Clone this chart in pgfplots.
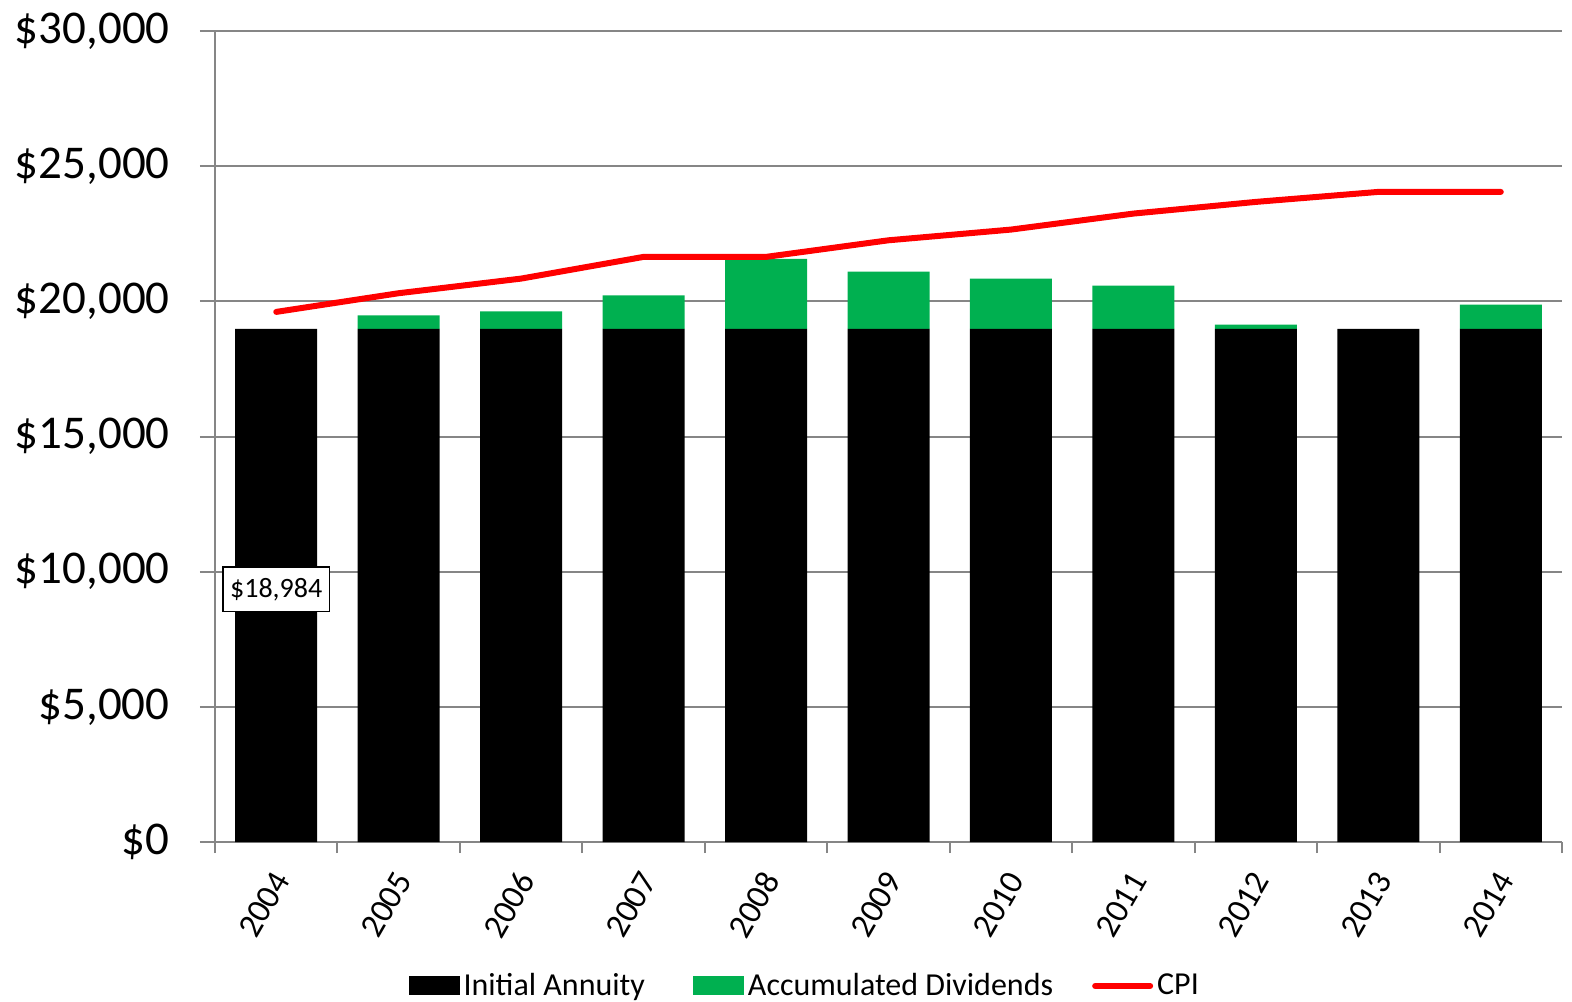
\documentclass[border=0pt]{standalone}
\usepackage{fontspec}
\setmainfont{Carlito}
\usepackage{pgfplots}
\pgfplotsset{compat=1.18}
\definecolor{cgreen}{HTML}{00B050}
\definecolor{cgrid}{HTML}{868686}
\begin{document}
\begin{tikzpicture}
\path[use as bounding box] (-107.5pt,-79.5pt) rectangle (678.5pt,421pt);
\begin{axis}[
  at={(0pt,0pt)}, anchor=south west,
  scale only axis, width=673.5pt, height=405.5pt,
  xmin=-0.5, xmax=10.5, ymin=0, ymax=30000,
  ybar stacked, bar width=41pt,
  axis lines*=left, axis line style={cgrid, line width=1pt},
  ymajorgrids, grid style={cgrid, line width=1pt},
  tick align=outside,
  major tick length=7.5pt, minor tick length=5.5pt,
  tick style={cgrid, line width=1pt},
  xtick={0,...,10},
  xticklabels={2004,2005,2006,2007,2008,2009,2010,2011,2012,2013,2014},
  every major x tick/.append style={draw=none},
  minor xtick={-0.5,0.5,...,10.5},
  ytick={0,5000,...,30000},
  scaled y ticks=false,
  yticklabel={\$\pgfmathprintnumber{\tick}},
  /pgf/number format/.cd, fixed, 1000 sep={,}, assume math mode=true,
  /pgfplots/.cd,
  yticklabel style={font=\fontsize{23.5}{23.5}\selectfont, inner sep=0pt, xshift=-15pt},
  xticklabel style={xshift=2.6pt, yshift=-8.7pt, rotate=60, anchor=east, font=\fontsize{17}{17}\selectfont, inner sep=0pt},
  legend columns=3,
  legend style={at={(rel axis cs:0.4385,-0.1775)}, anchor=center, draw=none, fill=none,
    font=\fontsize{16}{16}\selectfont, inner sep=0pt,
    /tikz/column 2/.style={column sep=22pt},
    /tikz/column 4/.style={column sep=17.5pt}},
]
\addplot[fill=black, draw=none,
  legend image code/.code={\fill[black] (0pt,-4.75pt) rectangle (25.5pt,4.75pt);}]
  coordinates {(0,18984) (1,18984) (2,18984) (3,18984) (4,18984) (5,18984)
               (6,18984) (7,18984) (8,18984) (9,18984) (10,18984)};
\addlegendentry{Initial Annuity}
\addplot[fill=cgreen, draw=none,
  legend image code/.code={\fill[cgreen] (0pt,-4.75pt) rectangle (25.5pt,4.75pt);}]
  coordinates {(0,0) (1,500) (2,648) (3,1240) (4,2586) (5,2116)
               (6,1857) (7,1598) (8,155) (9,0) (10,896)};
\addlegendentry{Accumulated Dividends}
\addlegendimage{red, line width=3pt,
  legend image code/.code={\draw[red, line width=3pt, line cap=round] (0pt,0pt) -- (27.5pt,0pt);}}
\addlegendentry{CPI}
\end{axis}
\begin{axis}[
  at={(0pt,0pt)}, anchor=south west,
  scale only axis, width=673.5pt, height=405.5pt,
  xmin=-0.5, xmax=10.5, ymin=0, ymax=30000,
  hide axis, clip=false,
]
\addplot[red, line width=3pt, line cap=round, line join=round, mark=none]
  coordinates {(0,19609) (1,20300) (2,20841) (3,21644) (4,21644) (5,22258)
               (6,22654) (7,23246) (8,23678) (9,24048) (10,24048)};
\node[draw=black, fill=white, line width=0.7pt, inner xsep=3.5pt, inner ysep=5.5pt,
      font=\fontsize{14}{14}\selectfont] at (axis cs:0,9344) {\$18,984};
\end{axis}
\end{tikzpicture}
\end{document}
